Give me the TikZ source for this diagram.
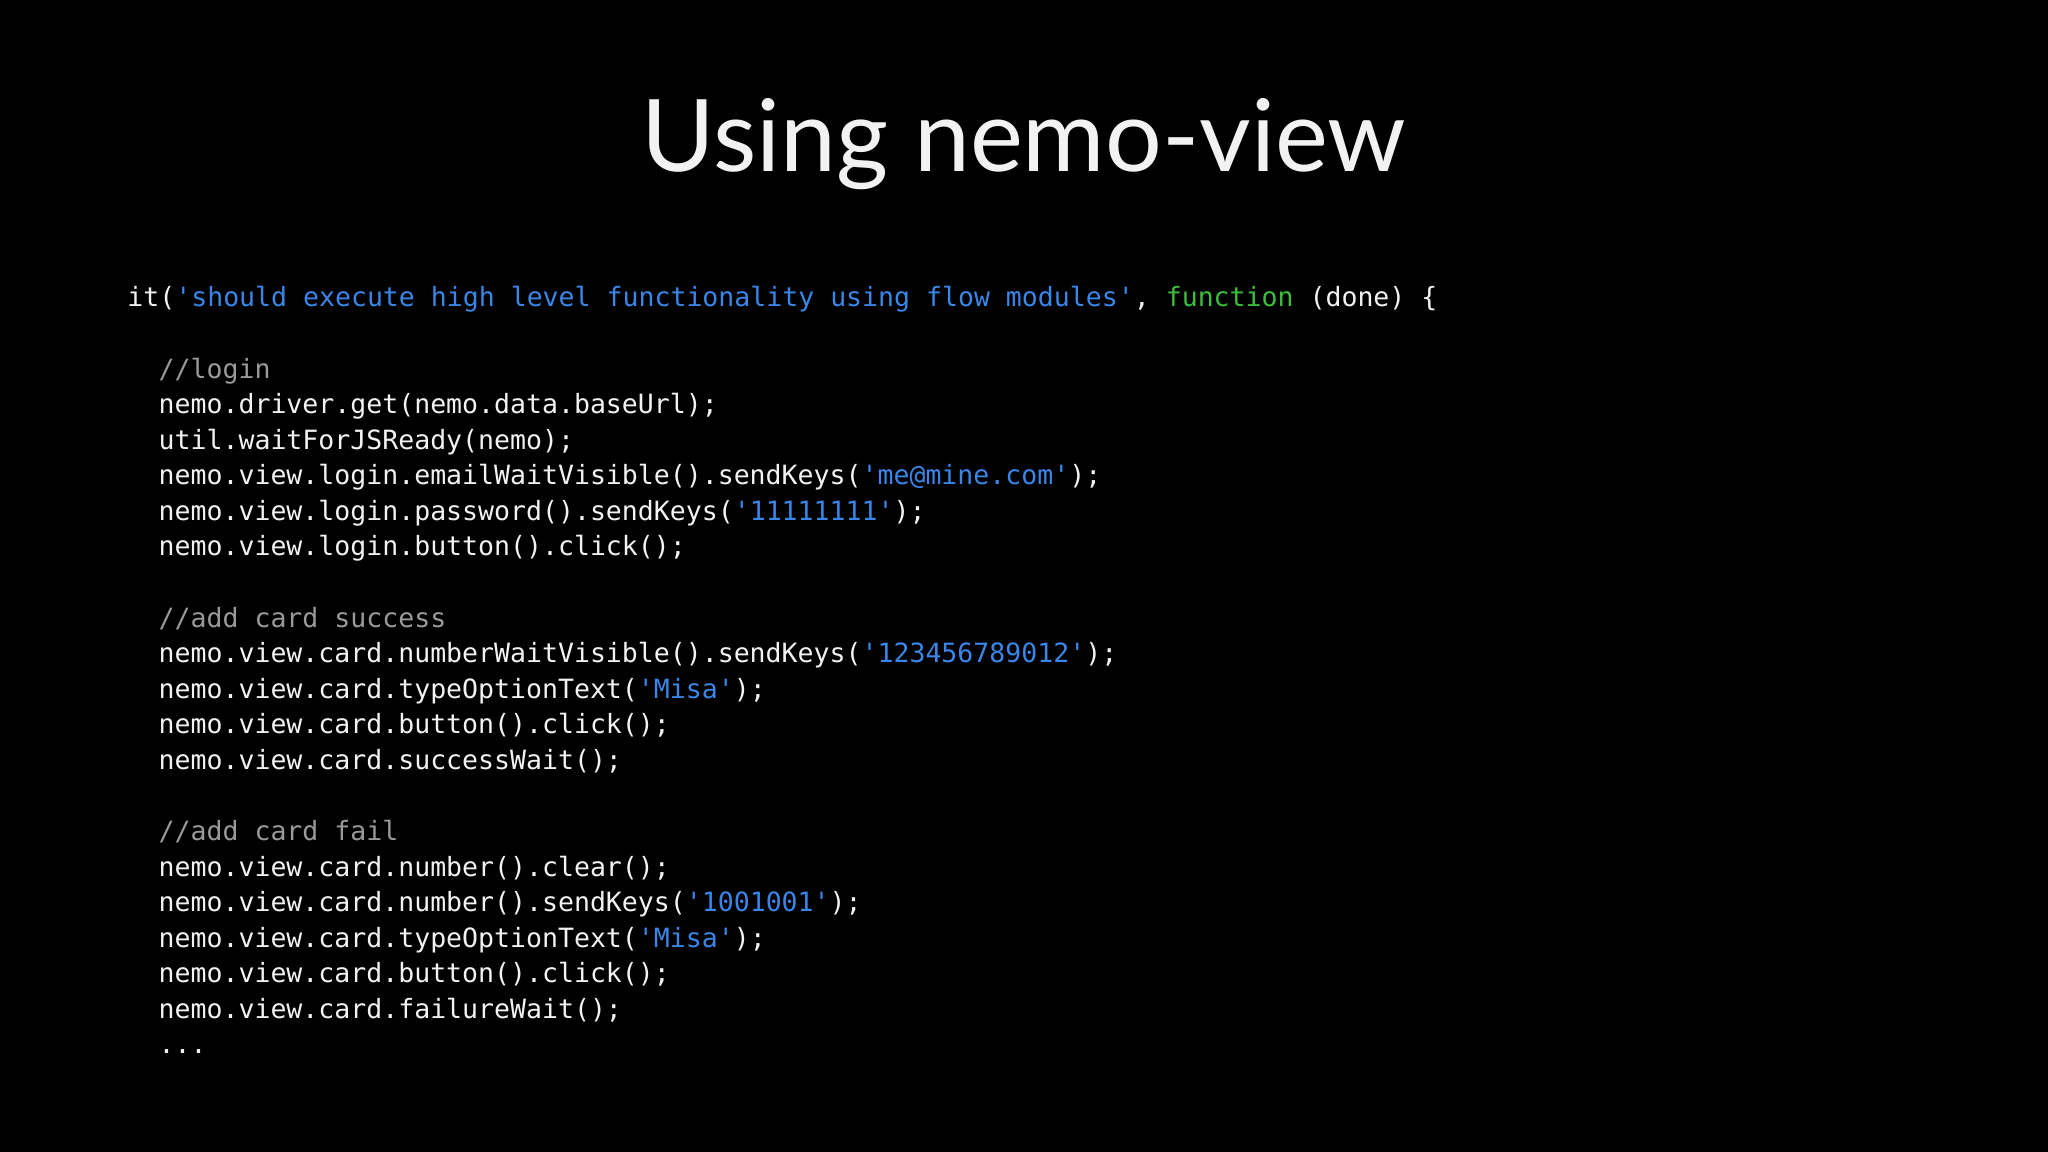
\documentclass[tikz,border=0pt]{standalone}
\usepackage{fontspec}
\setmainfont{Lato}
\setmonofont{DejaVu Sans Mono}
\definecolor{bg}{HTML}{000000}
\definecolor{fg}{HTML}{F2F2F2}
\definecolor{str}{HTML}{3A86E8}
\definecolor{kw}{HTML}{3DBE3A}
\definecolor{cm}{HTML}{9A9A9A}
\newcommand{\sS}[1]{\textcolor{str}{#1}}
\begin{document}
\begin{tikzpicture}[x=1cm,y=1cm,
  code/.style={anchor=base west,inner sep=0pt,text=fg,font=\ttfamily\fontsize{7.55pt}{9pt}\selectfont},
  cmt/.style={code,text=cm},
  ttl/.style={anchor=base,inner sep=0pt,text=fg,font=\fontsize{28.5pt}{34pt}\selectfont}]
\fill[bg] (0,0) rectangle (20.48,-11.52);
\useasboundingbox (0,0) rectangle (20.48,-11.52);
\node[ttl] (title) at (10.24,-1.72) {Using nemo-view};
\def\dy{0.3557}
\def\xa{1.267}
\def\xb{1.58}
\def\yo{-3.07}
\node[code] (l0) at (\xa,\yo) {it(\sS{'should execute high level functionality using flow modules'}, \textcolor{kw}{function} (done) \{};
\node[cmt] (l2) at (\xb,\yo-2*\dy) {//login};
\node[code] (l3) at (\xb,\yo-3*\dy) {nemo.driver.get(nemo.data.baseUrl);};
\node[code] (l4) at (\xb,\yo-4*\dy) {util.waitForJSReady(nemo);};
\node[code] (l5) at (\xb,\yo-5*\dy) {nemo.view.login.emailWaitVisible().sendKeys(\sS{'me@mine.com'});};
\node[code] (l6) at (\xb,\yo-6*\dy) {nemo.view.login.password().sendKeys(\sS{'11111111'});};
\node[code] (l7) at (\xb,\yo-7*\dy) {nemo.view.login.button().click();};
\node[cmt] (l9) at (\xb,\yo-9*\dy) {//add card success};
\node[code] (l10) at (\xb,\yo-10*\dy) {nemo.view.card.numberWaitVisible().sendKeys(\sS{'123456789012'});};
\node[code] (l11) at (\xb,\yo-11*\dy) {nemo.view.card.typeOptionText(\sS{'Misa'});};
\node[code] (l12) at (\xb,\yo-12*\dy) {nemo.view.card.button().click();};
\node[code] (l13) at (\xb,\yo-13*\dy) {nemo.view.card.successWait();};
\node[cmt] (l15) at (\xb,\yo-15*\dy) {//add card fail};
\node[code] (l16) at (\xb,\yo-16*\dy) {nemo.view.card.number().clear();};
\node[code] (l17) at (\xb,\yo-17*\dy) {nemo.view.card.number().sendKeys(\sS{'1001001'});};
\node[code] (l18) at (\xb,\yo-18*\dy) {nemo.view.card.typeOptionText(\sS{'Misa'});};
\node[code] (l19) at (\xb,\yo-19*\dy) {nemo.view.card.button().click();};
\node[code] (l20) at (\xb,\yo-20*\dy) {nemo.view.card.failureWait();};
\node[code] (l21) at (\xb,\yo-21*\dy) {...};
\end{tikzpicture}
\end{document}
